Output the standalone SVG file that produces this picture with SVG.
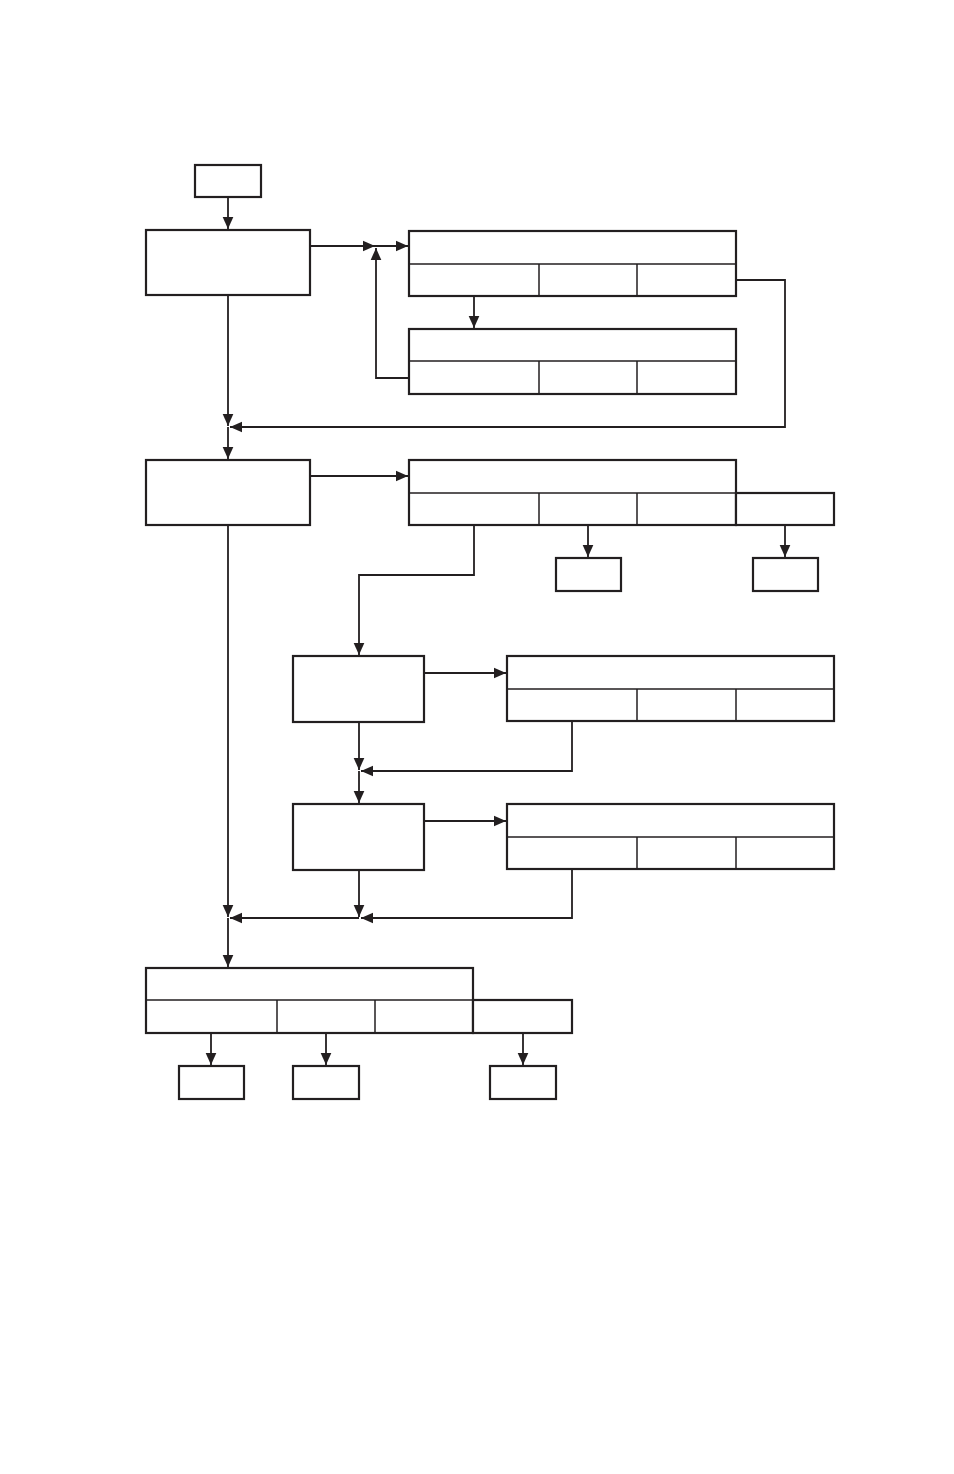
<svg xmlns="http://www.w3.org/2000/svg" width="954" height="1474" viewBox="0 0 954 1474">
<style>
.b{fill:#fff;stroke:#231f20;stroke-width:2.2}
.d{fill:none;stroke:#231f20;stroke-width:1.5}
.c{fill:none;stroke:#231f20;stroke-width:1.8}
</style>
<defs>
<marker id="ah" markerUnits="userSpaceOnUse" markerWidth="13" markerHeight="13" viewBox="0 0 13 13" refX="12" refY="6.5" orient="auto">
<path d="M0,1.2 L12,6.5 L0,11.8 Z" fill="#231f20"/>
</marker>
</defs>
<rect width="954" height="1474" fill="#fff"/>
<g id="connectors">
<path class="c" d="M228,197 V229" marker-end="url(#ah)"/>
<path class="c" d="M310,246 H375" marker-end="url(#ah)"/>
<path class="c" d="M375,246 H408" marker-end="url(#ah)"/>
<path class="c" d="M474,296 V328" marker-end="url(#ah)"/>
<path class="c" d="M409,378 H376 V248" marker-end="url(#ah)"/>
<path class="c" d="M736,280 H785 V427 H230" marker-end="url(#ah)"/>
<path class="c" d="M228,295 V426" marker-end="url(#ah)"/>
<path class="c" d="M228,427 V459" marker-end="url(#ah)"/>
<path class="c" d="M310,476 H408" marker-end="url(#ah)"/>
<path class="c" d="M588,525 V557" marker-end="url(#ah)"/>
<path class="c" d="M785,525 V557" marker-end="url(#ah)"/>
<path class="c" d="M474,525 V575 H359 V655" marker-end="url(#ah)"/>
<path class="c" d="M424,673 H506" marker-end="url(#ah)"/>
<path class="c" d="M572,721 V771 H361" marker-end="url(#ah)"/>
<path class="c" d="M359,722 V770" marker-end="url(#ah)"/>
<path class="c" d="M359,771 V803" marker-end="url(#ah)"/>
<path class="c" d="M424,821 H506" marker-end="url(#ah)"/>
<path class="c" d="M572,869 V918 H361" marker-end="url(#ah)"/>
<path class="c" d="M359,870 V917" marker-end="url(#ah)"/>
<path class="c" d="M359,918 H230" marker-end="url(#ah)"/>
<path class="c" d="M228,525 V917" marker-end="url(#ah)"/>
<path class="c" d="M228,918 V967" marker-end="url(#ah)"/>
<path class="c" d="M211,1033 V1065" marker-end="url(#ah)"/>
<path class="c" d="M326,1033 V1065" marker-end="url(#ah)"/>
<path class="c" d="M523,1033 V1065" marker-end="url(#ah)"/>
</g>
<g id="start"><rect class="b" x="195" y="165" width="66" height="32"/></g>
<g id="boxA"><rect class="b" x="146" y="230" width="164" height="65"/></g>
<g id="table1">
<rect class="b" x="409" y="231" width="327" height="65"/>
<path class="d" d="M409,264 H736 M539,264 V296 M637,264 V296"/>
</g>
<g id="table2">
<rect class="b" x="409" y="329" width="327" height="65"/>
<path class="d" d="M409,361 H736 M539,361 V394 M637,361 V394"/>
</g>
<g id="boxB"><rect class="b" x="146" y="460" width="164" height="65"/></g>
<g id="table3">
<rect class="b" x="409" y="460" width="327" height="65"/>
<rect class="b" x="736" y="493" width="98" height="32"/>
<path class="d" d="M409,493 H736 M539,493 V525 M637,493 V525"/>
</g>
<g id="leaf1"><rect class="b" x="556" y="558" width="65" height="33"/></g>
<g id="leaf2"><rect class="b" x="753" y="558" width="65" height="33"/></g>
<g id="boxC"><rect class="b" x="293" y="656" width="131" height="66"/></g>
<g id="table4">
<rect class="b" x="507" y="656" width="327" height="65"/>
<path class="d" d="M507,689 H834 M637,689 V721 M736,689 V721"/>
</g>
<g id="boxD"><rect class="b" x="293" y="804" width="131" height="66"/></g>
<g id="table5">
<rect class="b" x="507" y="804" width="327" height="65"/>
<path class="d" d="M507,837 H834 M637,837 V869 M736,837 V869"/>
</g>
<g id="table6">
<rect class="b" x="146" y="968" width="327" height="65"/>
<rect class="b" x="473" y="1000" width="99" height="33"/>
<path class="d" d="M146,1000 H473 M277,1000 V1033 M375,1000 V1033"/>
</g>
<g id="leaf3"><rect class="b" x="179" y="1066" width="65" height="33"/></g>
<g id="leaf4"><rect class="b" x="293" y="1066" width="66" height="33"/></g>
<g id="leaf5"><rect class="b" x="490" y="1066" width="66" height="33"/></g>
</svg>
